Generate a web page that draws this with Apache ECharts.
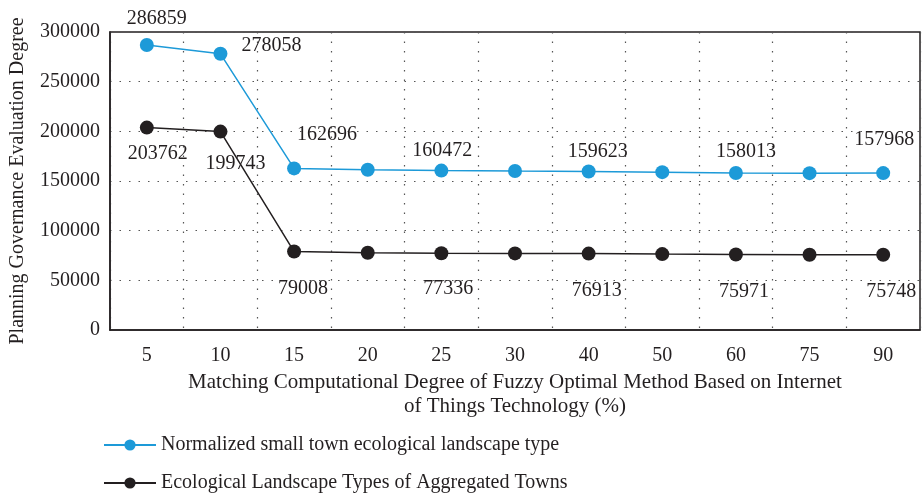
<!DOCTYPE html>
<html><head><meta charset="utf-8">
<script src="https://cdn.jsdelivr.net/npm/echarts@6/dist/echarts.min.js"></script>
<style>html,body{margin:0;padding:0;background:#fff}#c{width:924px;height:493px}</style>
</head><body><div id="c"></div>
<script>
const categories = ['5','10','15','20','25','30','40','50','60','75','90'];
const normalizedSeries = [286859, 278058, 162696, 161300, 160472, 160000, 159623, 158900, 158013, 157900, 157968];
const aggregatedSeries = [203762, 199743, 79008, 77700, 77336, 77100, 76913, 76400, 75971, 75800, 75748];
const normalizedName = 'Normalized small town ecological landscape type';
const aggregatedName = 'Ecological Landscape Types of Aggregated Towns';
const yTicks = [0, 50000, 100000, 150000, 200000, 250000, 300000];

// label placement (style only): index -> [dx, dy] relative to point
const normalizedLabelOffsets = {0:[10,-26],1:[51,-8],2:[33,-34],4:[1,-20],6:[9,-20],8:[10,-21],10:[1,-33]};
const aggregatedLabelOffsets = {0:[11,26],1:[15,32],2:[9,37],4:[7,36],6:[8,37],8:[8,37],10:[8,37]};

const FONT = 'Liberation Serif';
const FS = 20;
function build(values, offsets) {
  return values.map((v, i) => {
    const o = offsets[i];
    if (!o) return {value: v, label: {show: false}};
    return {value: v, label: {show: true, position: 'inside', offset: o, color: '#231f20', fontFamily: FONT, fontSize: FS}};
  });
}
const legendText = {fontFamily: FONT, fontSize: FS, color: '#231f20'};
const chart = echarts.init(document.getElementById('c'), null, {renderer: 'canvas'});
chart.setOption({
  animation: false,
  backgroundColor: '#fff',
  textStyle: {fontFamily: FONT},
  grid: {left: 110, right: 4, top: 32, bottom: 163, show: true, borderColor: '#231f20', borderWidth: 1.5, backgroundColor: 'transparent'},
  legend: [
    {left: 98, top: 430, itemWidth: 52, itemHeight: 14, itemGap: 10, textStyle: legendText, data: [normalizedName]},
    {left: 98, top: 468, itemWidth: 52, itemHeight: 14, itemGap: 10, textStyle: legendText, data: [aggregatedName]}
  ],
  xAxis: {
    type: 'category', data: categories, boundaryGap: true,
    axisLine: {show: true, lineStyle: {color: '#231f20', width: 1.5}},
    axisTick: {show: false},
    axisLabel: {color: '#231f20', fontFamily: FONT, fontSize: FS, margin: 16},
    splitLine: {show: true, lineStyle: {color: '#555', type: [1.5, 8], width: 1.2}},
    name: 'Matching Computational Degree of Fuzzy Optimal Method Based on Internet\nof Things Technology (%)',
    nameLocation: 'middle', nameGap: 40,
    nameTextStyle: {color: '#231f20', fontFamily: FONT, fontSize: 21, lineHeight: 24, align: 'center'}
  },
  yAxis: {
    type: 'value', min: yTicks[0], max: yTicks[yTicks.length-1], interval: yTicks[1]-yTicks[0],
    axisLine: {show: true, lineStyle: {color: '#231f20', width: 1.5}},
    axisTick: {show: false},
    axisLabel: {color: '#231f20', fontFamily: FONT, fontSize: FS, margin: 10, formatter: v => String(v)},
    splitLine: {show: true, lineStyle: {color: '#555', type: [1.5, 8], width: 1.2}},
    name: 'Planning Governance Evaluation Degree',
    nameLocation: 'middle', nameGap: 82,
    nameTextStyle: {color: '#231f20', fontFamily: FONT, fontSize: FS}
  },
  series: [
    {name: normalizedName, type: 'line', data: build(normalizedSeries, normalizedLabelOffsets),
     symbol: 'circle', symbolSize: 14, color: '#1d9ad8',
     lineStyle: {color: '#1d9ad8', width: 1.5}, itemStyle: {color: '#1d9ad8'}},
    {name: aggregatedName, type: 'line', data: build(aggregatedSeries, aggregatedLabelOffsets),
     symbol: 'circle', symbolSize: 14, color: '#231f20',
     lineStyle: {color: '#231f20', width: 1.5}, itemStyle: {color: '#231f20'}}
  ]
});
</script>
</body></html>
